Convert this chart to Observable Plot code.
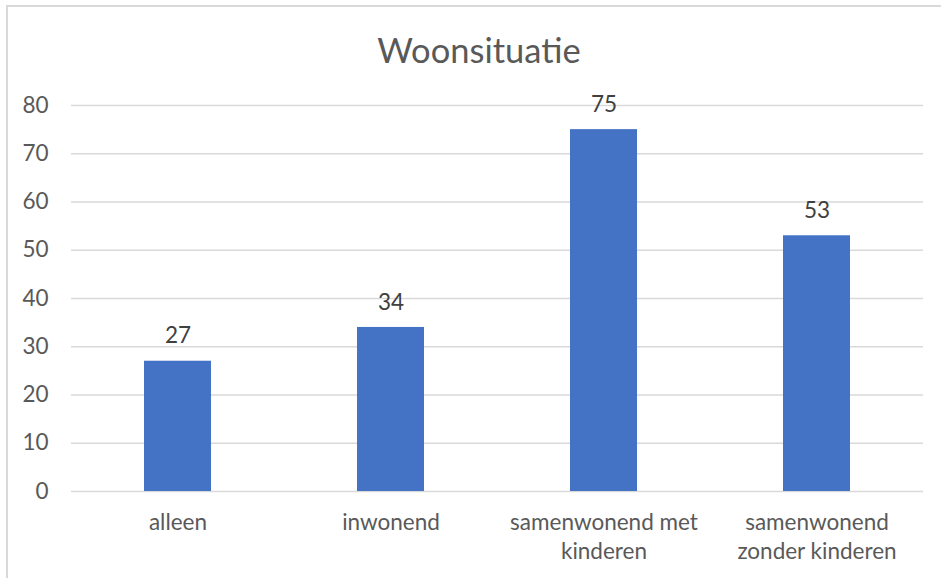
<!DOCTYPE html>
<html>
<head>
<meta charset="utf-8">
<script src="https://cdn.jsdelivr.net/npm/d3@7"></script>
<script src="https://cdn.jsdelivr.net/npm/@observablehq/plot@0.6"></script>
<style>
  html, body { margin: 0; padding: 0; background: #fff; }
  #wrap { position: relative; width: 941px; height: 578px; overflow: hidden; font-family: Lato, "Open Sans", sans-serif; }
  #frame { position: absolute; left: 6px; top: 5px; width: 960px; height: 600px; border-left: 2px solid #d9d9d9; border-top: 2px solid #d9d9d9; box-sizing: border-box; }
  #title { position: absolute; left: 0; width: 958px; top: 27px; text-align: center; font-size: 34.5px; color: #595959; line-height: 46px; }
  #chart { position: absolute; left: 0; top: 0; }
</style>
</head>
<body>
<div id="wrap">
  <div id="frame"></div>
  <div id="chart"></div>
  <div id="title">Woonsituatie</div>
</div>
<script>
const categories = ["alleen", "inwonend", "samenwonend met kinderen", "samenwonend zonder kinderen"];
const categoryLabels = ["alleen", "inwonend", "samenwonend met\nkinderen", "samenwonend\nzonder kinderen"];
const values = [27, 34, 75, 53];
const yTicks = [0, 10, 20, 30, 40, 50, 60, 70, 80];

const data = categories.map((c, i) => ({category: c, value: values[i]}));
const labelOf = new Map(categories.map((c, i) => [c, categoryLabels[i]]));

const chart = Plot.plot({
  width: 941,
  height: 578,
  marginLeft: 71,
  marginRight: 18,
  marginTop: 105,
  marginBottom: 87,
  style: {fontFamily: "Lato, 'Open Sans', sans-serif", background: "transparent", overflow: "visible"},
  x: {domain: categories, paddingInner: 0.685, paddingOuter: 0.3425},
  y: {domain: [0, 80]},
  marks: [
    Plot.ruleY(yTicks, {stroke: "#d9d9d9", strokeWidth: 1.5}),
    Plot.barY(data, {x: "category", y: "value", fill: "#4472c4"}),
    Plot.text(data, {x: "category", y: "value", text: d => String(d.value), dy: -25, fill: "#404040", fontSize: 22.5}),
    Plot.axisY({ticks: yTicks, tickSize: 0, tickPadding: 23, fontSize: 22.5, fill: "#595959", label: null}),
    Plot.axisX({tickSize: 0, tickPadding: 18, fontSize: 22.5, fill: "#595959", lineHeight: 1.29, tickFormat: d => labelOf.get(d), label: null})
  ]
});
document.getElementById("chart").appendChild(chart);
</script>
</body>
</html>
